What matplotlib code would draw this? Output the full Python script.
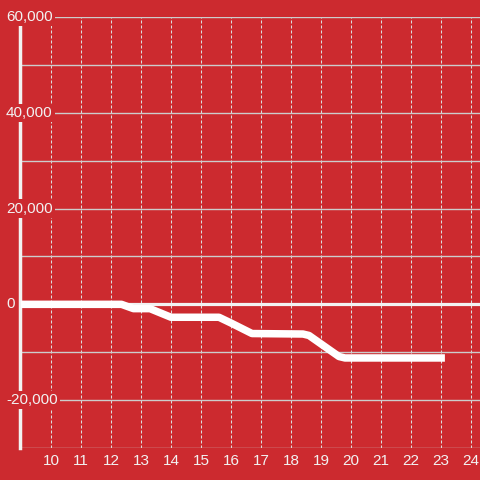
import matplotlib
matplotlib.use("Agg")
import matplotlib.pyplot as plt

# series
x_vals = [9.0, 12.35, 12.75, 13.3, 14.0, 15.6, 16.0, 16.7, 18.4, 18.6, 19.6, 19.8, 23.13]
y_vals = [0, 0, -900, -900, -2700, -2700, -3900, -6100, -6200, -6500, -10900, -11200, -11200]

x_ticks = list(range(10, 25))
y_grid = list(range(-30000, 60001, 10000))
y_label_vals = [-20000, 0, 20000, 40000, 60000]
y_label_text = ["-20,000", "0", "20,000", "40,000", "60,000"]

bg = "#cc2a2f"
fg = "#f2f2f2"

plt.rcParams['font.family'] = ['Liberation Sans', 'DejaVu Sans']
fig = plt.figure(figsize=(4.8, 4.8), dpi=100)
fig.patch.set_facecolor(bg)
ax = fig.add_axes([20 / 480, 32 / 480, 460 / 480, 431 / 480])
ax.set_facecolor(bg)

ax.set_xlim(8.967, 24.3)
ax.set_ylim(-30000, 60000)

ax.set_xticks(x_ticks)
ax.set_xticklabels([str(t) for t in x_ticks])
ax.set_yticks(y_grid)
ax.set_yticklabels([])
ax.tick_params(axis='x', length=0, pad=4, labelsize=11, labelcolor=fg)
ax.tick_params(axis='y', length=0)

ax.grid(axis='y', color='#cccccc', linewidth=1.0)
ax.grid(axis='x', color='#dddddd', linewidth=0.75, linestyle=(0, (2.9, 1.9)))
ax.set_axisbelow(True)

for side in ['top', 'right', 'bottom']:
    ax.spines[side].set_visible(False)
ax.spines['left'].set_color(fg)
ax.spines['left'].set_linewidth(2.5)

ax.axhline(0, color=fg, linewidth=2.3, zorder=3)
ax.plot(x_vals, y_vals, color='white', linewidth=5.4, solid_joinstyle='round',
        solid_capstyle='butt', zorder=4)

for v, t in zip(y_label_vals, y_label_text):
    ax.text(-14 / 460, v, t, transform=ax.get_yaxis_transform(), ha='left', va='center',
            fontsize=11, color=fg, zorder=6, clip_on=False,
            bbox=dict(facecolor=bg, edgecolor='none', pad=1.5))

fig.savefig("out.png", dpi=100, facecolor=bg)
